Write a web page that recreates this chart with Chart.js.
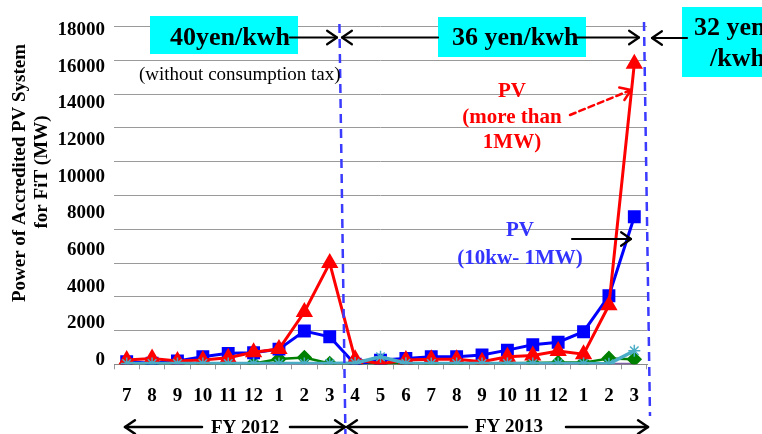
<!DOCTYPE html>
<html><head><meta charset="utf-8">
<script src="https://cdn.jsdelivr.net/npm/chart.js@4/dist/chart.umd.min.js"></script>
<style>html,body{margin:0;padding:0;background:#fff;overflow:hidden}#wrap{width:762px;height:434px;position:relative}</style>
</head><body><div id="wrap"><canvas id="c" width="762" height="434"></canvas></div>
<script>
// Months (FY2012: Jul–Mar, FY2013: Apr–Mar)
const months = ['7','8','9','10','11','12','1','2','3','4','5','6','7','8','9','10','11','12','1','2','3'];
// Monthly accredited capacity (MW)
const pvOver1MW   = [250, 350, 200, 250, 390, 710, 900, 3100, 6000, 300, 30, 250, 300, 300, 150, 450, 520, 790, 600, 3500, 17800];
const pv10kwTo1MW = [150, 60, 200, 450, 650, 680, 900, 1970, 1630, 0, 250, 350, 450, 450, 550, 840, 1160, 1310, 1930, 4060, 8740];
const otherGreen  = [30, 20, 20, 30, 40, 50, 310, 400, 50, 20, 20, 30, 30, 30, 40, 60, 80, 100, 100, 350, 300];
const otherCyan   = [50, 50, 50, 50, 50, 50, 50, 50, 50, 80, 450, 60, 50, 50, 50, 50, 50, 50, 50, 30, 800];
const otherPurple = [10, 10, 10, 10, 10, 10, 10, 10, 10, 10, 10, 10, 10, 10, 10, 10, 10, 10, 10, 10, 10];
// Tick labels shown on the value axis
const yTickLabels = [0, 2000, 4000, 6000, 8000, 10000, 12000, 14000, 16000, 18000];
const yTitle = ['Power of Accredited PV System', 'for FiT (MW)'];

const SERIF = '"Liberation Serif","Times New Roman",serif';

function arrow(ctx, x1, y1, x2, y2, color, width, dash) {
  ctx.save();
  ctx.strokeStyle = color; ctx.lineWidth = width; ctx.lineCap = 'round'; ctx.lineJoin = 'round';
  ctx.setLineDash(dash || []);
  ctx.beginPath(); ctx.moveTo(x1, y1); ctx.lineTo(x2, y2); ctx.stroke();
  ctx.setLineDash([]);
  const a = Math.atan2(y2 - y1, x2 - x1), L = 12, W = 0.6;
  ctx.beginPath();
  ctx.moveTo(x2 - L * Math.cos(a - W), y2 - L * Math.sin(a - W));
  ctx.lineTo(x2, y2);
  ctx.lineTo(x2 - L * Math.cos(a + W), y2 - L * Math.sin(a + W));
  ctx.stroke();
  ctx.restore();
}

const annot = {
  id: 'annot',
  afterDraw(chart) {
    const ctx = chart.ctx;
    const xs = chart.scales.x;
    const ca = chart.chartArea;
    ctx.save();
    // y axis title (two rotated lines)
    ctx.fillStyle = '#000';
    ctx.font = 'bold 19px ' + SERIF;
    ctx.textAlign = 'center'; ctx.textBaseline = 'alphabetic';
    ctx.save(); ctx.translate(25, 173); ctx.rotate(-Math.PI / 2); ctx.fillText(yTitle[0], 0, 0); ctx.restore();
    ctx.save(); ctx.translate(47, 172); ctx.rotate(-Math.PI / 2); ctx.fillText(yTitle[1], 0, 0); ctx.restore();

    // FY boundary dashed lines
    const xb = (xs.getPixelForValue(8) + xs.getPixelForValue(9)) / 2;
    ctx.strokeStyle = '#3b3bff'; ctx.lineWidth = 2.5; ctx.setLineDash([9, 6]);
    ctx.beginPath(); ctx.moveTo(xb - 3, 24); ctx.lineTo(xb + 3, 434); ctx.stroke();
    ctx.beginPath(); ctx.moveTo(ca.right - 3, 22); ctx.lineTo(ca.right + 3, 416); ctx.stroke();
    ctx.setLineDash([]);

    // cyan tariff boxes
    ctx.fillStyle = '#00FFFF';
    ctx.fillRect(150, 16, 148, 38);
    ctx.fillRect(438, 17, 148, 40);
    ctx.fillRect(682, 7, 90, 70);
    ctx.fillStyle = '#000';
    ctx.textAlign = 'left'; ctx.textBaseline = 'alphabetic';
    ctx.font = 'bold 26px ' + SERIF;
    ctx.fillText('40yen/kwh', 170, 45);
    ctx.fillText('36 yen/kwh', 452, 45);
    ctx.fillText('32 yen', 694, 35);
    ctx.fillText('/kwh', 710, 66);
    arrow(ctx, 290, 37.5, 337, 37.5, '#000', 2.2);
    arrow(ctx, 438, 37.5, 342, 37.5, '#000', 2.2);
    arrow(ctx, 577, 37.5, 639, 37.5, '#000', 2.2);
    arrow(ctx, 687, 38, 652, 38, '#000', 2.2);

    ctx.font = '19px ' + SERIF;
    ctx.fillText('(without consumption tax)', 139, 80);

    // series annotations
    ctx.textAlign = 'center';
    ctx.font = 'bold 21px ' + SERIF;
    ctx.fillStyle = '#FF0000';
    ctx.fillText('PV', 512, 97);
    ctx.fillText('(more than', 512, 123);
    ctx.fillText('1MW)', 512, 148);
    arrow(ctx, 570, 115, 631, 90, '#FF0000', 2.5, [6, 4]);
    ctx.fillStyle = '#3333FF';
    ctx.fillText('PV', 520, 236);
    ctx.fillText('(10kw- 1MW)', 520, 264);
    arrow(ctx, 572, 239, 631, 239, '#000', 2.2);

    // fiscal year spans
    ctx.fillStyle = '#000';
    ctx.font = 'bold 19px ' + SERIF;
    ctx.fillText('FY 2012', 245, 433);
    ctx.fillText('FY 2013', 509, 432);
    arrow(ctx, 202, 427, 125, 427, '#000', 2.5);
    arrow(ctx, 290, 427, 345, 427, '#000', 2.5);
    arrow(ctx, 467, 427, 347, 427, '#000', 2.5);
    arrow(ctx, 566, 427, 648, 427, '#000', 2.5);
    ctx.restore();
  }
};

const tickFont = { family: SERIF, size: 19, weight: 'bold' };

new Chart(document.getElementById('c'), {
  type: 'line',
  data: {
    labels: months,
    datasets: [
      { label: 'cyan series', data: otherCyan, yAxisID: 'y', borderColor: '#4BACC6', backgroundColor: '#4BACC6',
        borderWidth: 3.5, pointStyle: 'star', pointRadius: 6, pointBorderWidth: 1.5, order: 0 },
      { label: 'PV (more than 1MW)', data: pvOver1MW, yAxisID: 'y', borderColor: '#FF0000', backgroundColor: '#FF0000',
        borderWidth: 3, pointStyle: 'triangle', pointRadius: 7, order: 1 },
      { label: 'PV (10kw- 1MW)', data: pv10kwTo1MW, yAxisID: 'y', borderColor: '#0000FF', backgroundColor: '#0000FF',
        borderWidth: 3, pointStyle: 'rect', pointRadius: 7, order: 2 },
      { label: 'green series', data: otherGreen, yAxisID: 'y', borderColor: '#008000', backgroundColor: '#008000',
        borderWidth: 2.5, pointStyle: 'rectRot', pointRadius: 6, order: 3 },
      { label: 'purple series', data: otherPurple, yAxisID: 'y', borderColor: '#7F60A2', backgroundColor: '#7F60A2',
        borderWidth: 3, pointStyle: 'crossRot', pointRadius: 5, pointBorderWidth: 1.5, order: 4 }
    ]
  },
  options: {
    responsive: false, animation: false, devicePixelRatio: 1,
    layout: { padding: { top: 26.7, right: 115, bottom: 0, left: 0 } },
    plugins: { legend: { display: false }, tooltip: { enabled: false } },
    elements: { line: { tension: 0 } },
    scales: {
      x: {
        type: 'category', offset: true,
        grid: { offset: true, drawOnChartArea: false, drawTicks: true, tickLength: 5, color: '#999' },
        border: { color: '#888', width: 1 },
        ticks: { color: '#000', font: tickFont, padding: 15, maxRotation: 0, autoSkip: false },
        afterFit(s) { s.height = 434 - 364.3; }
      },
      y: {
        position: 'left', weight: 0, min: 0, max: 20000,
        ticks: { display: false, stepSize: 2000 },
        grid: { color: '#9a9a9a', lineWidth: 1, drawTicks: false },
        border: { display: false },
        afterFit(s) { s.width = 0; }
      },
      yLab: {
        position: 'left', weight: 1, min: -235, max: 18180,
        afterBuildTicks(s) { s.ticks = yTickLabels.map(v => ({ value: v })); },
        ticks: { color: '#000', font: tickFont, padding: 9, callback: (v) => String(v) },
        grid: { display: false, drawTicks: false },
        border: { display: false },
        afterFit(s) { s.width = 114; }
      }
    }
  },
  plugins: [annot]
});
</script>
</body></html>
